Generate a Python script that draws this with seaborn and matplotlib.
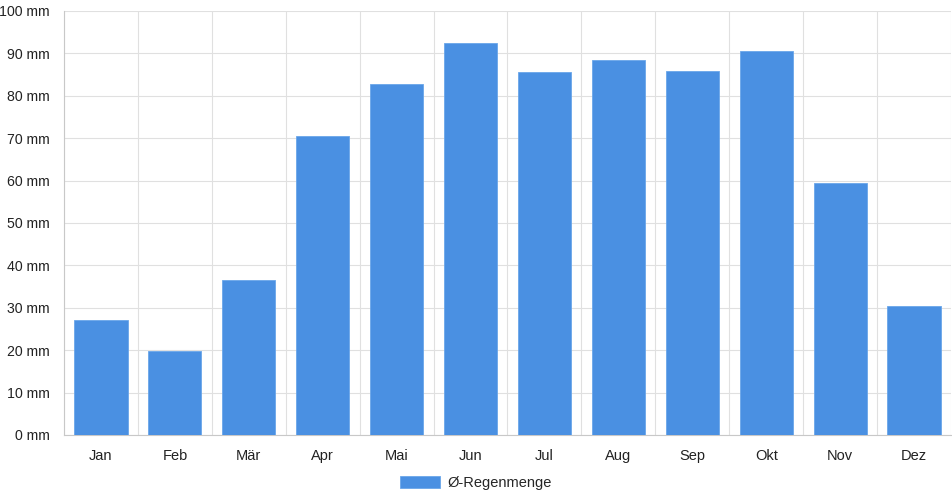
import numpy as np
import matplotlib
matplotlib.use("Agg")
import matplotlib.pyplot as plt
import seaborn as sns

months = ["Jan", "Feb", "Mär", "Apr", "Mai", "Jun", "Jul", "Aug", "Sep", "Okt", "Nov", "Dez"]
rain_mm = [27.2, 19.9, 36.6, 70.6, 82.8, 92.4, 85.7, 88.4, 85.8, 90.5, 59.4, 30.5]
y_ticks = [0, 10, 20, 30, 40, 50, 60, 70, 80, 90, 100]
series_name = "Ø-Regenmenge"

sns.set_style("white")
plt.rcParams['font.family'] = ['Liberation Sans', 'DejaVu Sans']

grid_col = "#e0e0e0"
bar_col = "#4a90e2"
txt_col = "#222222"

fig = plt.figure(figsize=(9.52, 5.0), dpi=100)
ax = fig.add_axes([64 / 952, 65 / 500, 887 / 952, 424 / 500])

sns.barplot(x=months, y=rain_mm, color=bar_col, saturation=1, width=0.72, ax=ax,
            label=series_name, edgecolor="#6aa6ea", linewidth=0.6, zorder=3)

ax.set_xlim(-0.5, len(months) - 0.5)
ax.set_ylim(0, 100)
ax.set_yticks(y_ticks)
ax.set_yticklabels([f"{v} mm" for v in y_ticks])

# vertical grid at category borders
ax.set_xticks(np.arange(-0.5, len(months)), minor=True)
ax.grid(True, which="minor", axis="x", color=grid_col, linewidth=0.8, zorder=0)
ax.grid(True, which="major", axis="y", color=grid_col, linewidth=0.8, zorder=0)
ax.tick_params(axis="x", which="major", length=0, pad=10, labelsize=10.5, labelcolor=txt_col)
ax.tick_params(axis="x", which="minor", length=8, color=grid_col, width=0.8)
ax.tick_params(axis="y", length=8, color=grid_col, width=0.8, pad=2, labelsize=10.2, labelcolor=txt_col)

for s in ["top", "right"]:
    ax.spines[s].set_visible(False)
ax.spines["left"].set_color("#c8c8c8")
ax.spines["bottom"].set_color("#c8c8c8")
ax.spines["left"].set_linewidth(0.8)
ax.spines["bottom"].set_linewidth(0.8)

ax.set_xlabel("")
ax.set_ylabel("")

fig.legend(*ax.get_legend_handles_labels(), loc="center", bbox_to_anchor=(0.5, 1 - 483 / 500),
           frameon=False, fontsize=10.5, handlelength=2.7, handleheight=0.95, handletextpad=0.5)
if ax.get_legend() is not None:
    ax.get_legend().remove()

fig.savefig("out.png", dpi=100)
